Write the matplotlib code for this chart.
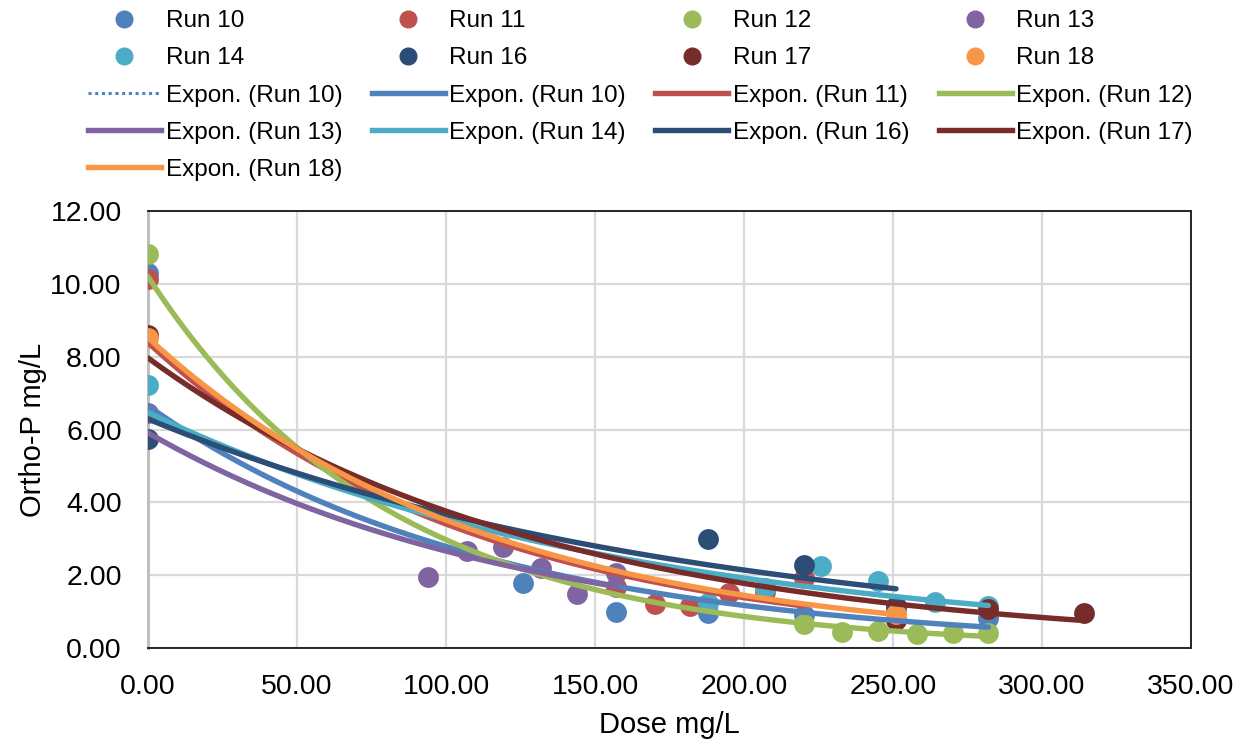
import numpy as np
import matplotlib
matplotlib.use("Agg")
import matplotlib.pyplot as plt
from matplotlib.lines import Line2D

plt.rcParams['font.family'] = ['Liberation Sans', 'DejaVu Sans']

# data (dose mg/L, ortho-P mg/L)
run_names = ["Run 10", "Run 11", "Run 12", "Run 13", "Run 14", "Run 16", "Run 17", "Run 18"]
colors = ["#4F81BD", "#C0504D", "#9BBB59", "#8064A2", "#4BACC6", "#2C4D75", "#772C2A", "#F79646"]

run10_x = [0, 126, 157, 188, 220, 251, 282]
run10_y = [10.3, 1.78, 1.0, 0.97, 0.9, 1.05, 0.82]
run11_x = [0, 157, 170, 182, 195, 207, 220]
run11_y = [10.12, 1.68, 1.22, 1.16, 1.51, 1.55, 1.93]
run12_x = [0, 220, 233, 245, 258, 270, 282]
run12_y = [10.82, 0.66, 0.45, 0.47, 0.39, 0.40, 0.41]
run13_x = [0, 94, 107, 119, 132, 144, 157]
run13_y = [6.45, 1.95, 2.67, 2.78, 2.2, 1.47, 2.05]
run14_x = [0, 188, 207, 226, 245, 264, 282]
run14_y = [7.21, 1.24, 1.65, 2.24, 1.84, 1.27, 1.16]
run16_x = [0, 188, 220, 251]
run16_y = [5.75, 3.0, 2.28, 1.14]
run17_x = [0, 251, 282, 314]
run17_y = [8.6, 0.78, 1.07, 0.97]
run18_x = [0, 251]
run18_y = [8.52, 0.92]

xs = [run10_x, run11_x, run12_x, run13_x, run14_x, run16_x, run17_x, run18_x]
ys = [run10_y, run11_y, run12_y, run13_y, run14_y, run16_y, run17_y, run18_y]

fig = plt.figure(figsize=(12.45, 7.42), dpi=100)
ax = fig.add_axes([0.1189, 0.1267, 0.8377, 0.5889])

pt_handles = []
for name, c, x, y in zip(run_names, colors, xs, ys):
    ax.scatter(x, y, s=225, color=c, zorder=3, linewidths=0)
    pt_handles.append(Line2D([], [], marker='o', color=c, linestyle='none', markersize=12, label=name))

# exponential trendlines (least squares on ln y, like Excel)
fit_handles = []
for i, (name, c, x, y) in enumerate(zip(run_names, colors, xs, ys)):
    b, a = np.polyfit(np.array(x, float), np.log(y), 1)
    xx = np.linspace(min(x), max(x), 200)
    ax.plot(xx, np.exp(a) * np.exp(b * xx), color=c, lw=3.9, zorder=4,
            solid_capstyle='round')
    if i == 0:
        fit_handles.append(Line2D([], [], color=c, lw=2.2, linestyle=(0, (1, 1.2)),
                                  label="Expon. (Run 10)"))
    fit_handles.append(Line2D([], [], color=c, lw=3.9, label="Expon. (" + name + ")"))

ax.set_xlim(0, 350)
ax.set_ylim(0, 12)
ax.set_xticks(np.arange(0, 351, 50))
ax.set_yticks(np.arange(0, 12.1, 2))
ax.xaxis.set_major_formatter(plt.FuncFormatter(lambda v, p: "%.2f" % v))
ax.yaxis.set_major_formatter(plt.FuncFormatter(lambda v, p: "%.2f" % v))
ax.tick_params(length=0, labelsize=20.5, pad=19)
ax.grid(True, color="#D9D9D9", lw=1.6)
ax.set_axisbelow(True)
for s in ["top", "right", "bottom"]:
    ax.spines[s].set_color("#262626")
    ax.spines[s].set_linewidth(1.4)
ax.spines["left"].set_color("#BFBFBF")
ax.spines["left"].set_linewidth(2.2)

ax.set_xlabel("Dose mg/L", fontsize=21, labelpad=8)
ax.set_ylabel("Ortho-P mg/L", fontsize=21, labelpad=2)

# legend rows as in the reference (filled column by column)
all_h = pt_handles + fit_handles
order = [0, 4, 8, 12, 16, 1, 5, 9, 13, 2, 6, 10, 14, 3, 7, 11, 15]
hs = [all_h[k] for k in order]
fig.legend(handles=hs, labels=[h.get_label() for h in hs], ncol=4,
           loc="upper left", bbox_to_anchor=(0.0707, 0.986), frameon=False,
           fontsize=17.5, handlelength=3.0, handletextpad=0.2,
           columnspacing=1.2, labelspacing=0.62, borderpad=0, borderaxespad=0)

fig.savefig("out.png", dpi=100)
